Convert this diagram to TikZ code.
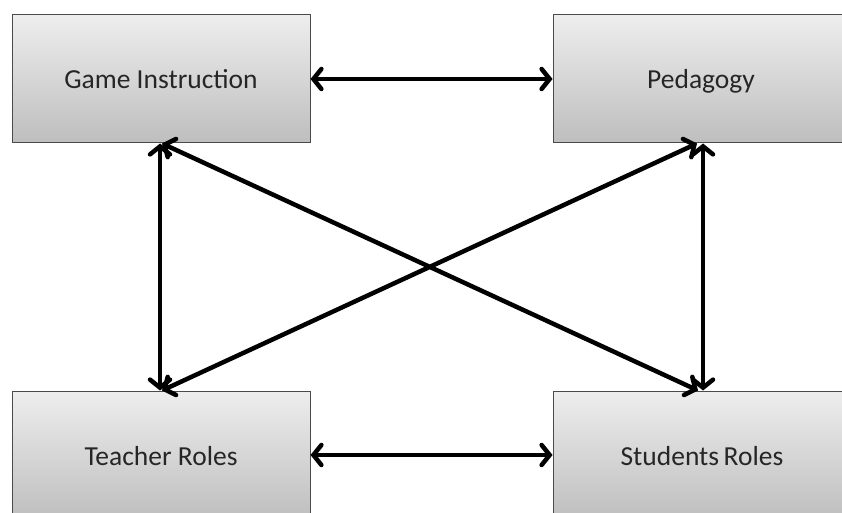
\documentclass[tikz,border=0pt]{standalone}
\usepackage{fontspec}
\setmainfont{Carlito}
\usepackage{xcolor}
\usetikzlibrary{arrows.meta}

\definecolor{boxtop}{HTML}{EEEEEE}
\definecolor{boxbottom}{HTML}{BEBEBE}
\definecolor{boxline}{HTML}{4A4A4A}

\begin{document}
\begin{tikzpicture}[x=1pt,y=-1pt,
    block/.style={draw=boxline,line width=1pt,top color=boxtop,bottom color=boxbottom,
        minimum height=128pt,inner sep=0pt,text=black!85,text height=24pt,text depth=4pt,
        font=\fontsize{27.5}{32}\selectfont},
    link/.style={line width=4.5pt,{Straight Barb[length=8pt,width=20pt,line cap=round]}-{Straight Barb[length=8pt,width=20pt,line cap=round]}}]
    \clip (0,0) rectangle (842,513);
    \fill[white] (0,0) rectangle (842,513);

    % Boxes
    \node[block,minimum width=298pt] (gi) at (161,79) {Game Instruction};
    \node[block,minimum width=296pt] (ped) at (701,79) {Pedagogy};
    \node[block,minimum width=298pt] (tr) at (161,455) {Teacher Roles};
    \node[block,minimum width=298pt] (sr) at (702,455) {Students\,Roles};

    % Horizontal links
    \draw[link] (gi.east) -- (ped.west);
    \draw[link] (tr.east) -- (sr.west);

    % Vertical links
    \draw[link] ([xshift=-1pt]gi.south) -- ([xshift=-1pt]tr.north);
    \draw[link] ([xshift=2pt]ped.south) -- ([xshift=1pt]sr.north);

    % Diagonal links
    \draw[link] ([xshift=1pt]gi.south) -- ([xshift=-4pt]sr.north);
    \draw[link] ([xshift=-4pt]ped.south) -- ([xshift=1pt]tr.north);
\end{tikzpicture}
\end{document}
